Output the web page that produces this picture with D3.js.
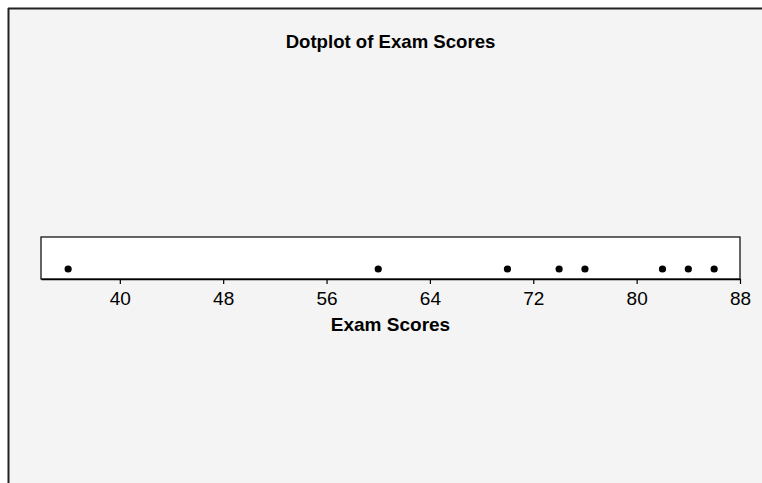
<!DOCTYPE html>
<html>
<head>
<meta charset="utf-8">
<script src="https://cdn.jsdelivr.net/npm/d3@7"></script>
<style>
  html, body { margin: 0; padding: 0; background: #fff; }
  svg { display: block; font-family: "Liberation Sans", Arial, sans-serif; }
</style>
</head>
<body>
<svg id="chart" width="762" height="483"></svg>
<script>
const scores = [36, 60, 70, 74, 76, 82, 84, 86];
const tickValues = [40, 48, 56, 64, 72, 80, 88];
const title = "Dotplot of Exam Scores";
const xLabel = "Exam Scores";

const width = 762;
const height = 483;
const svg = d3.select("#chart");

// panel background with dark left/top frame
svg.append("rect")
  .attr("x", 8).attr("y", 8)
  .attr("width", width - 8).attr("height", height - 8)
  .attr("fill", "#f4f4f4");
svg.append("line")
  .attr("x1", 8).attr("x2", width).attr("y1", 8.5).attr("y2", 8.5)
  .attr("stroke", "#222").attr("stroke-width", 2);
svg.append("line")
  .attr("x1", 8.5).attr("x2", 8.5).attr("y1", 8).attr("y2", height)
  .attr("stroke", "#222").attr("stroke-width", 2);

const box = { left: 41, right: 740, top: 237, bottom: 279 };

const x = d3.scaleLinear()
  .domain([33.9, 88])
  .range([box.left, box.right]);

svg.append("rect")
  .attr("x", box.left).attr("y", box.top)
  .attr("width", box.right - box.left).attr("height", box.bottom - box.top)
  .attr("fill", "#fff")
  .attr("stroke", "#000")
  .attr("stroke-width", 1.2);

const axis = svg.append("g")
  .attr("transform", `translate(0,${box.bottom})`)
  .attr("font-size", 19)
  .call(d3.axisBottom(x).tickValues(tickValues).tickSize(5).tickPadding(8).tickSizeOuter(0));
axis.select(".domain").attr("stroke", "#000").attr("stroke-width", 1.5);
axis.selectAll(".tick line").attr("stroke", "#000").attr("stroke-width", 1.2);
axis.selectAll(".tick text")
  .attr("fill", "#000")
  .style("font-size", "19px")
  .style("font-family", "Liberation Sans, Arial, sans-serif");

svg.append("g")
  .selectAll("circle")
  .data(scores)
  .join("circle")
  .attr("cx", d => x(d))
  .attr("cy", 269)
  .attr("r", 3.6)
  .attr("fill", "#000");

svg.append("text")
  .attr("x", (box.left + box.right) / 2)
  .attr("y", 48)
  .attr("text-anchor", "middle")
  .attr("font-size", 18.6)
  .attr("font-weight", "bold")
  .text(title);

svg.append("text")
  .attr("x", (box.left + box.right) / 2)
  .attr("y", 331)
  .attr("text-anchor", "middle")
  .attr("font-size", 19)
  .attr("font-weight", "bold")
  .text(xLabel);
</script>
</body>
</html>
